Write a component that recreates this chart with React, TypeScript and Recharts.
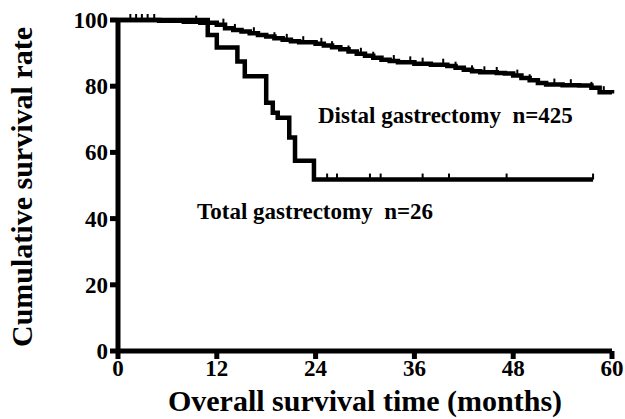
import { ComposedChart, Line, XAxis, YAxis } from "recharts";

const FONT = '"Liberation Serif", "Times New Roman", serif';

// distal gastrectomy (n=425), step times in months and survival %
const distalTimes = [0, 5, 8, 10, 12, 13, 14, 15, 16, 17, 18, 19, 20, 21, 22, 24, 25, 26, 27, 28, 29, 30, 31, 32, 33, 34, 36, 38, 40, 41, 42, 43, 44, 46, 47, 48, 49, 50, 51, 52, 54, 56, 57.5, 58.5, 60];
const distalRates = [100, 99.8, 99.5, 99.2, 98.6, 97.5, 97, 96.5, 96, 95.5, 95, 94.5, 94, 93.6, 93.3, 92.8, 92.3, 91.8, 91.2, 90.5, 89.8, 89.2, 88.6, 88, 87.6, 87.2, 86.8, 86.5, 86.1, 85.6, 85, 84.5, 84.2, 84, 83.8, 83.2, 82.5, 81.8, 81, 80.5, 80.3, 80.2, 79.5, 78.2, 77.8];
const distalCensored = [1.5, 2.2, 2.9, 3.6, 4.4, 9.5, 12.8, 14.2, 16.5, 19, 20.5, 22.5, 24.7, 26, 28, 29.5, 31, 33.5, 35.5, 37, 39.5, 41, 43, 44.5, 46, 48.5, 50, 53, 55, 57.5, 59];

// total gastrectomy (n=26)
const totalTimes = [0, 10.9, 12, 14.5, 15.4, 18, 18.8, 19.4, 20.8, 21.5, 23.8, 57.7];
const totalRates = [100, 95.5, 91.7, 87.5, 83, 75, 72, 70.5, 64.5, 57.5, 51.8, 51.8];
const totalCensored = [25.4, 26.6, 30.6, 31.9, 37, 40.2, 47.2, 57.7];

const xTicks = [0, 12, 24, 36, 48, 60];
const yTicks = [0, 20, 40, 60, 80, 100];

const levelAt = (ts: number[], vs: number[], t: number) => {
    let v = vs[0];
    ts.forEach((x, i) => {
        if (x <= t) v = vs[i];
    });
    return v;
};

// one table keyed by time, null where a series has no point
const allTimes = Array.from(new Set([...distalTimes, ...totalTimes, ...distalCensored, ...totalCensored])).sort((a, b) => a - b);
const rows = allTimes.map((t) => {
    const di = distalTimes.indexOf(t);
    const ti = totalTimes.indexOf(t);
    return {
        t,
        distal: di >= 0 ? distalRates[di] : null,
        total: ti >= 0 ? totalRates[ti] : null,
        distalCens: distalCensored.includes(t) ? levelAt(distalTimes, distalRates, t) : null,
        totalCens: totalCensored.includes(t) ? levelAt(totalTimes, totalRates, t) : null,
    };
});

// censor mark: short vertical tick sitting on the curve
const censorDot = (props: any) => {
    const { cx, cy, index, value } = props;
    if (value == null || cy == null || isNaN(cy)) return <g key={index} />;
    return <line key={index} x1={cx} x2={cx} y1={cy} y2={cy - 6} stroke="#000" strokeWidth={2} />;
};

const renderXTick = (props: any) => {
    const { x, y, payload } = props;
    return (
        <text x={x} y={y + 15} textAnchor="middle" fill="#000" fontSize={23} fontWeight="bold" fontFamily={FONT}>
            {payload.value}
        </text>
    );
};

const renderYTick = (props: any) => {
    const { x, y, payload } = props;
    return (
        <text x={x} y={y + 8} textAnchor="end" fill="#000" fontSize={23} fontWeight="bold" fontFamily={FONT}>
            {payload.value}
        </text>
    );
};

const textBase = { position: "absolute" as const, fontFamily: FONT, fontWeight: "bold" as const, color: "#000" };

export default function App() {
    return (
        <div style={{ position: "absolute", left: 0, top: 0, width: 625, height: 419, background: "#fff" }}>
            <ComposedChart width={625} height={419} data={rows} margin={{ top: 20, right: 13, bottom: 28, left: 0 }}>
                <XAxis
                    type="number"
                    dataKey="t"
                    domain={[0, 60]}
                    ticks={xTicks}
                    height={40}
                    axisLine={{ stroke: "#000", strokeWidth: 5 }}
                    tickLine={{ stroke: "#000", strokeWidth: 5 }}
                    tickSize={8}
                    tick={renderXTick}
                />
                <YAxis
                    type="number"
                    domain={[0, 100]}
                    ticks={yTicks}
                    width={118}
                    axisLine={{ stroke: "#000", strokeWidth: 5 }}
                    tickLine={{ stroke: "#000", strokeWidth: 5 }}
                    tickSize={8}
                    tick={renderYTick}
                />
                <Line dataKey="distal" type="stepAfter" connectNulls stroke="#000" strokeWidth={4.5} dot={false} activeDot={false} isAnimationActive={false} />
                <Line dataKey="total" type="stepAfter" connectNulls stroke="#000" strokeWidth={4.5} dot={false} activeDot={false} isAnimationActive={false} />
                <Line dataKey="distalCens" stroke="none" dot={censorDot} activeDot={false} isAnimationActive={false} />
                <Line dataKey="totalCens" stroke="none" dot={censorDot} activeDot={false} isAnimationActive={false} />
            </ComposedChart>
            <div style={{ ...textBase, left: 22, top: 187, transform: "translate(-50%, -50%) rotate(-90deg)", whiteSpace: "nowrap", fontSize: 30 }}>
                Cumulative survival rate
            </div>
            <div style={{ ...textBase, left: 365, top: 401, transform: "translate(-50%, -50%)", whiteSpace: "nowrap", fontSize: 30 }}>
                Overall survival time (months)
            </div>
            <div style={{ ...textBase, left: 318, top: 116, transform: "translateY(-50%)", whiteSpace: "pre", fontSize: 23 }}>
                {"Distal gastrectomy  n=425"}
            </div>
            <div style={{ ...textBase, left: 197, top: 212, transform: "translateY(-50%)", whiteSpace: "pre", fontSize: 23 }}>
                {"Total gastrectomy  n=26"}
            </div>
        </div>
    );
}
